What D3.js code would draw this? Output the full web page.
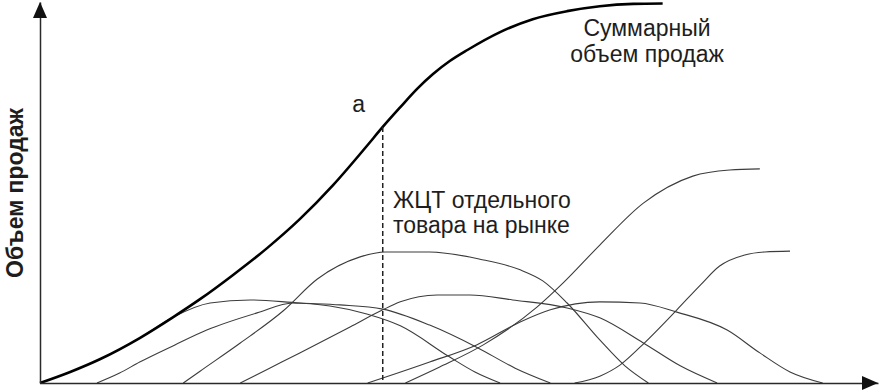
<!DOCTYPE html>
<html>
<head>
<meta charset="utf-8">
<script src="https://d3js.org/d3.v7.min.js"></script>
<style>
	html, body { margin: 0; padding: 0; background: #fff; }
	#chart { width: 879px; height: 392px; }
	text { font-family: 'Liberation Sans', Arial, sans-serif; fill: #1e1e1e; }
	.axisTitle { font-size: 23px; font-weight: bold; }
	.chartLabel { font-size: 23px; }
</style>
</head>
<body>
<div id="chart"></div>
<script>
/*globals d3*/

// time (0..100) / sales volume (0..100)
const totalSales = [[0, 0], [3.6, 2.9], [7.2, 6.3], [11.9, 11.8], [15.9, 17.3], [19.1, 22.0], [23.0, 28.3],
	[27.1, 35.4], [31.0, 43.0], [35.0, 52.0], [39.0, 62.2], [40.9, 67.2], [43.0, 72.4], [45.0, 77.2],
	[46.9, 81.1], [48.9, 84.5], [51.0, 87.4], [54.9, 92.1], [58.8, 95.5], [62.9, 97.6], [66.8, 98.9],
	[70.8, 99.5], [74.3, 99.6]];

// product life cycles
const lifecycle1 = [[0, 0], [3.6, 2.9], [7.2, 6.3], [11.9, 11.8], [15.9, 17.3], [20.3, 21.0], [25.1, 21.8],
	[31.0, 21.0], [35.8, 20.5], [40.9, 19.4], [46.5, 15.2], [52.1, 9.4], [56.7, 3.9], [60.9, 0]];
const lifecycle2 = [[6.8, 0], [9.5, 2.6], [11.9, 5.5], [16.1, 10.0], [19.9, 13.9], [25.9, 18.4], [30.2, 21.0],
	[34.6, 20.2], [39.0, 18.1], [43.0, 15.0], [48.9, 6.8], [51.9, 2.9], [54.9, 0]];
const lifecycle3 = [[17.1, 0], [19.1, 3.1], [23.9, 10.5], [29.0, 18.9], [33.1, 27.3], [38.2, 33.1], [41.2, 34.4],
	[46.5, 34.4], [52.5, 32.5], [57.3, 29.7], [60.0, 26.8], [62.9, 21.0], [66.8, 11.3], [69.8, 4.5], [72.6, 0]];
const lifecycle4 = [[23.9, 0], [27.4, 3.9], [31.0, 7.9], [37.0, 14.7], [40.9, 19.2], [43.0, 21.3], [47.4, 23.1],
	[51.3, 23.1], [56.4, 21.8], [62.9, 19.7], [66.8, 17.1], [72.0, 10.5], [76.4, 4.5], [80.8, 0]];
const lifecycle5 = [[39.1, 0], [40.9, 1.3], [46.5, 5.5], [52.1, 10.0], [57.3, 16.0], [60.9, 19.2], [66.8, 21.3],
	[71.6, 21.0], [76.0, 18.6], [82.0, 13.9], [85.9, 7.9], [89.5, 2.9], [93.4, 0]];
const lifecycle6 = [[43.6, 0], [47.7, 4.2], [52.9, 10.0], [59.3, 19.9], [62.4, 26.2], [66.8, 36.2], [72.0, 47.2],
	[77.9, 54.3], [82.3, 55.9], [85.9, 56.2]];
const lifecycle7 = [[63.8, 0], [66.8, 1.8], [69.2, 4.7], [71.6, 9.4], [76.0, 19.2], [78.8, 25.7], [81.1, 30.7],
	[84.1, 33.6], [86.5, 34.4], [89.5, 34.6]];
const lifecycles = [lifecycle1, lifecycle2, lifecycle3, lifecycle4, lifecycle5, lifecycle6, lifecycle7];

// point "a" on the total curve
const markerPoint = [40.9, 67.2];

const axisTitle = 'Объем продаж';
const totalLabel = ['Суммарный', 'объем продаж'];
const productLabel = ['ЖЦТ отдельного', 'товара на рынке'];
const pointLabel = 'а';

var lifeCycleChart = function () {
	'use strict';
	let chart = {};
	let svg, x, y;
	const width = 879;
	const height = 392;
	const axisColor = '#2a2a2a';

	function drawSvg(idSelector) {
		d3.selectAll('#' + idSelector + ' svg').remove();
		svg = d3.select('#' + idSelector).append('svg')
			.attr('width', width)
			.attr('height', height);
	}

	function drawArrow(points) {
		svg.append('polygon')
			.attr('points', points.map(p => p.join(',')).join(' '))
			.style('fill', '#111');
	}

	function drawAxes() {
		svg.append('g')
			.attr('transform', 'translate(0,' + y(0) + ')')
			.call(d3.axisBottom(x).tickValues([]).tickSizeOuter(0))
			.select('.domain').style('stroke', axisColor).style('stroke-width', 1.5);
		svg.append('g')
			.attr('transform', 'translate(' + x(0) + ',0)')
			.call(d3.axisLeft(y).tickValues([]).tickSizeOuter(0))
			.select('.domain').style('stroke', axisColor).style('stroke-width', 1.5);
		// arrow heads
		const xEnd = x.range()[1];
		const yEnd = y.range()[1];
		drawArrow([[xEnd, y(0)], [xEnd - 16, y(0) - 7], [xEnd - 16, y(0) + 7]]);
		drawArrow([[x(0), yEnd], [x(0) - 7, yEnd + 16], [x(0) + 7, yEnd + 16]]);
	}

	function drawCurve(data, color, strokeWidth) {
		const line = d3.line()
			.x(d => x(d[0]))
			.y(d => y(d[1]))
			.curve(d3.curveMonotoneX);
		svg.append('path')
			.datum(data)
			.attr('d', line)
			.style('fill', 'none')
			.style('stroke', color)
			.style('stroke-width', strokeWidth);
	}

	function writeLines(lines, xPos, yPos, lineGap, anchor) {
		const t = svg.append('text')
			.classed('chartLabel', true)
			.style('text-anchor', anchor)
			.attr('x', xPos).attr('y', yPos);
		lines.forEach((l, i) => {
			t.append('tspan').attr('x', xPos).attr('dy', i === 0 ? 0 : lineGap).text(l);
		});
	}

	chart.renderChart = function (idSelector) {
		drawSvg(idSelector);
		x = d3.scaleLinear().domain([0, 100]).range([40, 878]);
		y = d3.scaleLinear().domain([0, 100]).range([383, 2]);

		// thin life cycle curves
		lifecycles.forEach(lc => drawCurve(lc, '#3c3c3c', 1.1));
		// thick total
		drawCurve(totalSales, '#000', 2.6);

		// dashed drop from point a
		svg.append('line')
			.attr('x1', x(markerPoint[0])).attr('y1', y(markerPoint[1]))
			.attr('x2', x(markerPoint[0])).attr('y2', y(0))
			.style('stroke', '#222')
			.style('stroke-width', 1.5)
			.style('stroke-dasharray', '5,3');

		drawAxes();

		// y axis title
		svg.append('text')
			.text(axisTitle)
			.classed('axisTitle', true)
			.style('text-anchor', 'middle')
			.attr('transform', 'translate(23,193) rotate(-90)');

		svg.append('text')
			.text(pointLabel)
			.classed('chartLabel', true)
			.style('text-anchor', 'middle')
			.attr('x', x(markerPoint[0]) - 24)
			.attr('y', y(markerPoint[1]) - 15);

		writeLines(totalLabel, 647, 36, 26, 'middle');
		writeLines(productLabel, 393, 208, 25, 'start');
	};

	return chart;
};

lifeCycleChart().renderChart('chart');
</script>
</body>
</html>
